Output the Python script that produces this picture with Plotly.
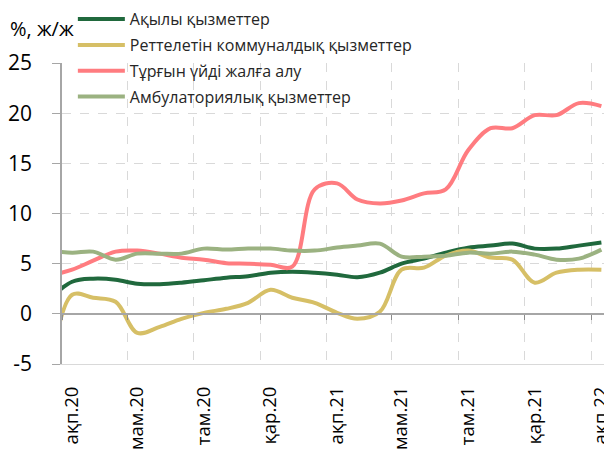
import plotly.graph_objects as go
import pandas as pd

# Monthly observations (Jan 2020 point lies just left of the visible axis range)
months = ["2020-01", "2020-02", "2020-03", "2020-04", "2020-05", "2020-06", "2020-07",
          "2020-08", "2020-09", "2020-10", "2020-11", "2020-12", "2021-01", "2021-02",
          "2021-03", "2021-04", "2021-05", "2021-06", "2021-07", "2021-08", "2021-09",
          "2021-10", "2021-11", "2021-12", "2022-01", "2022-02"]

paid_services = [1.5, 3.2, 3.5, 3.4, 3.0, 2.95, 3.1, 3.35, 3.6, 3.75, 4.1, 4.2, 4.1, 3.9,
                 3.65, 4.1, 5.0, 5.5, 6.1, 6.6, 6.8, 7.0, 6.5, 6.5, 6.8, 7.1]
regulated_utilities = [-6.5, 1.9, 1.6, 1.2, -1.9, -1.3, -0.5, 0.1, 0.5, 1.1, 2.4, 1.6, 1.1, 0.1,
                       -0.5, 0.2, 4.4, 4.6, 5.8, 6.3, 5.6, 5.4, 3.1, 4.1, 4.4, 4.4]
housing_rent = [3.8, 4.4, 5.3, 6.2, 6.3, 6.0, 5.6, 5.4, 5.05, 5.0, 4.9, 4.7, 12.4, 13.0,
                11.4, 11.0, 11.3, 12.0, 12.4, 16.3, 18.5, 18.5, 19.8, 19.8, 21.0, 20.7]
outpatient = [6.3, 6.1, 6.2, 5.4, 6.0, 6.0, 6.0, 6.5, 6.4, 6.5, 6.5, 6.3, 6.3, 6.6,
              6.8, 7.0, 5.7, 5.7, 5.8, 6.1, 6.0, 6.2, 5.9, 5.4, 5.5, 6.4]

series_names = ["Ақылы қызметтер", "Реттелетін коммуналдық қызметтер",
                "Тұрғын үйді жалға алу", "Амбулаториялық қызметтер"]
series_values = [paid_services, regulated_utilities, housing_rent, outpatient]
series_colors = ["#20693D", "#D6BF66", "#FF7C80", "#9BB281"]

tick_months = ["2020-02", "2020-05", "2020-08", "2020-11", "2021-02",
               "2021-05", "2021-08", "2021-11", "2022-02"]
tick_labels = ["ақп.20", "мам.20", "там.20", "қар.20", "ақп.21",
               "мам.21", "там.21", "қар.21", "ақп.22"]

y_ticks = [-5, 0, 5, 10, 15, 20, 25]
y_tick_labels = ["-5", "0", "5", "10", "15", "20", "25"]

x_dates = [pd.Timestamp(m + "-15") for m in months]
tick_dates = [pd.Timestamp(m + "-01") for m in tick_months]

FONT = "Open Sans"

fig = go.Figure()
for name, vals, col in zip(series_names, series_values, series_colors):
    fig.add_trace(go.Scatter(
        x=x_dates, y=vals, name=name, mode="lines",
        line=dict(color=col, width=4, shape="spline", smoothing=1.0),
        legendgroup=name,
    ))

# helper trace for the axis crossing at zero
fig.add_trace(go.Scatter(x=[x_dates[1]], y=[None], xaxis="x2", yaxis="y",
                         showlegend=False, hoverinfo="skip", mode="lines"))

# page body has an 8px default margin, so the figure is 8px smaller than the window
fig.update_layout(
    width=604, height=442,
    margin=dict(l=54, r=7, t=55, b=86, autoexpand=False),
    paper_bgcolor="white", plot_bgcolor="white",
    font=dict(family=FONT, color="#000000"),
    showlegend=True,
    legend=dict(x=0.020, y=1.202, xanchor="left", yanchor="top",
                bgcolor="rgba(0,0,0,0)", itemwidth=47,
                font=dict(family=FONT, size=16, color="#262626"),
                tracegroupgap=2),
    xaxis=dict(
        type="date", range=["2020-02-01", "2022-02-20"], automargin=False,
        tickmode="array", tickvals=tick_dates, ticktext=tick_labels,
        tickangle=-90, ticks="", ticklabelshift=10, ticklabelstandoff=14,
        ticklabeloverflow="allow",
        tickfont=dict(family=FONT, size=18.5, color="#000000"),
        showgrid=True, gridcolor="#D9D9D9", griddash="dash", gridwidth=1.3,
        showline=True, linecolor="#D9D9D9", linewidth=1.3,
        zeroline=False,
    ),
    xaxis2=dict(
        type="date", overlaying="x", matches="x", anchor="free", position=1/6,
        automargin=False,
        tickmode="array", tickvals=tick_dates, showticklabels=False,
        ticks="outside", ticklen=5, tickcolor="#8C8C8C", tickwidth=1.3,
        showgrid=False, showline=True, linecolor="#A6A6A6", linewidth=1.5,
        zeroline=False,
    ),
    yaxis=dict(
        range=[-5, 25], tickmode="array", tickvals=y_ticks, ticktext=y_tick_labels,
        automargin=False,
        ticks="outside", ticklen=8, tickcolor="#A6A6A6", tickwidth=1.3,
        ticklabelstandoff=16,
        tickfont=dict(family=FONT, size=21, color="#000000"),
        showgrid=True, gridcolor="#D9D9D9", griddash="dash", gridwidth=1.3,
        showline=True, linecolor="#A6A6A6", linewidth=1.5,
        zeroline=True, zerolinecolor="#A6A6A6", zerolinewidth=1.5,
    ),
    annotations=[dict(text="%, ж/ж", xref="paper", yref="paper",
                      x=-54 / 543, y=1 + 35 / 301, xanchor="left", yanchor="middle",
                      showarrow=False, font=dict(family=FONT, size=20, color="#000000"))],
)

fig.write_html("out.html")
